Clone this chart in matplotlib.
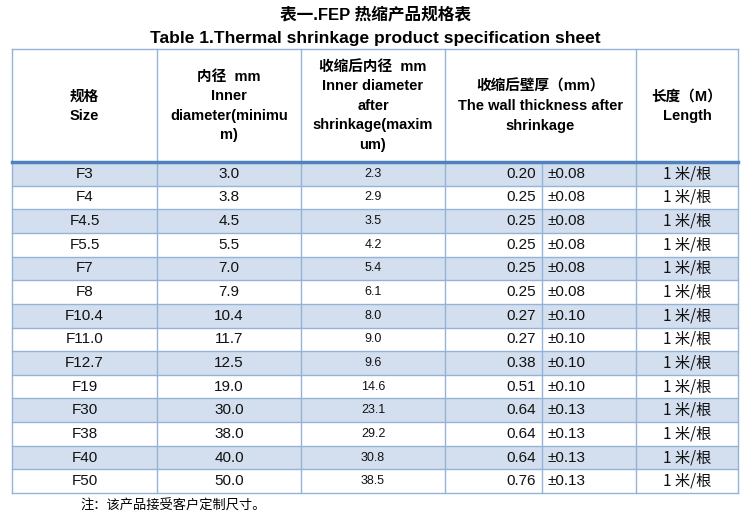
import matplotlib
matplotlib.use("Agg")
import matplotlib.pyplot as plt
from matplotlib.patches import Rectangle

sizes = ["F3","F4","F4.5","F5.5","F7","F8","F10.4","F11.0","F12.7","F19","F30","F38","F40","F50"]
inner_min = ["3.0","3.8","4.5","5.5","7.0","7.9","10.4","11.7","12.5","19.0","30.0","38.0","40.0","50.0"]
inner_after = ["2.3","2.9","3.5","4.2","5.4","6.1","8.0","9.0","9.6","14.6","23.1","29.2","30.8","38.5"]
wall = ["0.20","0.25","0.25","0.25","0.25","0.25","0.27","0.27","0.38","0.51","0.64","0.64","0.64","0.76"]
tol = ["±0.08"]*6 + ["±0.10"]*4 + ["±0.13"]*4
length = ["1 米/根"]*14

CJK = "Noto Sans CJK SC"
plt.rcParams["font.family"] = ["Liberation Sans", CJK]

fig = plt.figure(figsize=(7.5, 5.18), dpi=100)
ax = fig.add_axes([0, 0, 1, 1])
ax.set_xlim(0, 750); ax.set_ylim(518, 0); ax.axis("off")

xs = [12, 157, 301, 445, 542, 636, 738]
top, hb = 49, 162
rh = (493 - hb) / len(sizes)
line_c = "#95B3D7"; fill_c = "#D3DFEE"; thick_c = "#4F81BD"

ax.text(375, 14, "表一.FEP 热缩产品规格表", ha="center", va="center", fontsize=12,
        fontweight="bold")
ax.text(375, 38, "Table 1.Thermal shrinkage product specification sheet", ha="center",
        va="center", fontsize=12.5, fontweight="bold")

for i in range(len(sizes)):
    y0 = hb + i * rh
    if i % 2 == 0:
        ax.add_patch(Rectangle((xs[0], y0), xs[-1] - xs[0], rh, color=fill_c, lw=0))
    cy = y0 + rh / 2
    kw = dict(va="center", fontsize=11, color="#111")
    ax.text((xs[0]+xs[1])/2, cy, sizes[i], ha="center", **kw)
    ax.text((xs[1]+xs[2])/2, cy, inner_min[i], ha="center", **kw)
    ax.text((xs[2]+xs[3])/2, cy, inner_after[i], ha="center", va="center", fontsize=9, color="#111")
    ax.text(xs[4]-6, cy, wall[i], ha="right", **kw)
    ax.text(xs[4]+5, cy, tol[i], ha="left", **kw)
    ax.text((xs[5]+xs[6])/2, cy, length[i], ha="center", va="center", fontsize=11,
            color="#111", fontfamily=[CJK])
    ax.plot([xs[0], xs[-1]], [y0 + rh]*2, color=line_c, lw=1)

bottom = hb + len(sizes) * rh
for j, x in enumerate(xs):
    y_start = hb if j == 4 else top
    ax.plot([x, x], [y_start, bottom], color=line_c, lw=1)
ax.plot([xs[0], xs[-1]], [top, top], color=line_c, lw=1)
ax.plot([xs[0], xs[-1]], [hb, hb], color=thick_c, lw=2.5)

hk = dict(ha="center", va="center", fontsize=10.5, fontweight="bold", linespacing=1.5)
ax.text((xs[0]+xs[1])/2, 106, "规格\nSize", **hk)
ax.text((xs[1]+xs[2])/2, 106, "内径  mm\nInner\ndiameter(minimu\nm)", **hk)
ax.text((xs[2]+xs[3])/2, 106, "收缩后内径  mm\nInner diameter\nafter\nshrinkage(maxim\num)", **hk)
ax.text((xs[3]+xs[5])/2, 106, "收缩后壁厚（mm）\nThe wall thickness after\nshrinkage", **hk)
ax.text((xs[5]+xs[6])/2, 106, "长度（M）\nLength", **hk)

ax.text(80, 506, "注：该产品接受客户定制尺寸。", ha="left", va="center", fontsize=9.5,
        fontfamily=[CJK])

fig.savefig("out.png", dpi=100)
